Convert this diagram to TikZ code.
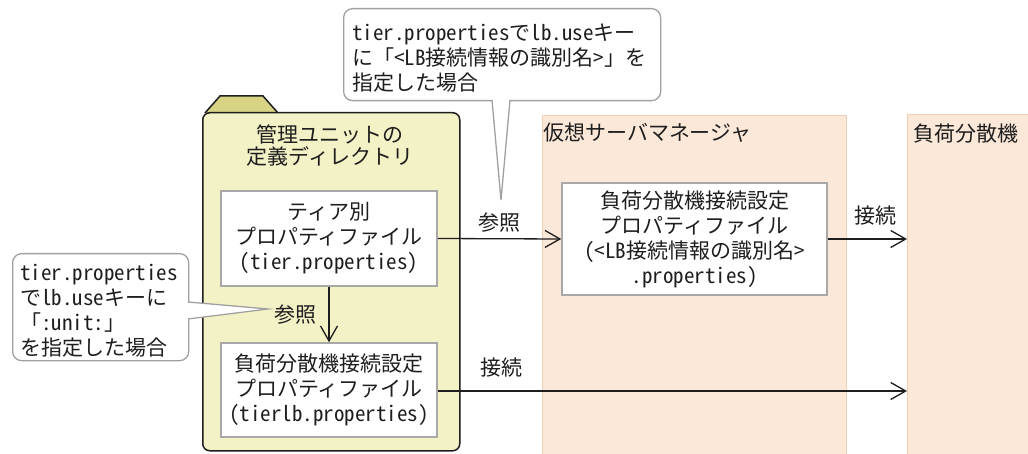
\documentclass[tikz,border=0pt]{standalone}
\usepackage{fontspec}
\setmainfont{Noto Sans CJK JP}
\newfontfamily\hwfont{Noto Sans CJK JP}[RawFeature=+hwid]
\newcommand\hw[1]{{\hwfont #1}}
\usetikzlibrary{arrows.meta}
\definecolor{folderfill}{HTML}{F3F1C6}
\definecolor{tabfill}{HTML}{D8D384}
\definecolor{panelfill}{HTML}{FBE8D8}
\definecolor{paneldraw}{HTML}{EFCFB5}
\definecolor{boxdraw}{HTML}{A8A8A8}
\definecolor{calldraw}{HTML}{A0A0A0}
\definecolor{ink}{HTML}{1E1E1E}
\begin{document}
\begin{tikzpicture}[x=1pt,y=-1pt,
  every node/.style={font=\fontsize{21}{25}\selectfont, text=ink},
  panel/.style={draw=paneldraw, fill=panelfill, line width=1.3pt, inner sep=0pt, anchor=north west},
  filebox/.style={draw=boxdraw, fill=white, line width=1.5pt, align=center, inner sep=0pt},
  callout/.style={draw=calldraw, fill=white, line width=1.3pt, rounded corners=9pt, inner sep=0pt, anchor=north west},
  calltext/.style={align=left, inner sep=0pt},
  conn/.style={draw=ink, line width=1.3pt, -{Straight Barb[length=15pt,width=17pt,line width=1.3pt]}},
  lbl/.style={inner sep=0pt}
]
\useasboundingbox (0,0) rectangle (1028,454);
\clip (0,0) rectangle (1028,454);
\fill[white] (0,0) rectangle (1028,454);

% panels
\node[panel, minimum width=304pt, minimum height=360pt] (mgr) at (542,115) {};
\node[panel, minimum width=140pt, minimum height=360pt] (lb) at (907,114) {};
\node[anchor=west, inner sep=0pt] (mgrtitle) at (543,133) {仮想サーバマネージャ};
\node[anchor=west, inner sep=0pt] (lbtitle) at (913,134) {負荷分散機};

% folder
\filldraw[fill=tabfill, draw=ink, line width=1.5pt] (205,113) -- (220,96) -- (263,96) -- (278,113);
\node[draw=ink, fill=folderfill, line width=1.5pt, rounded corners=7pt, minimum width=257pt, minimum height=338pt, anchor=north west, inner sep=0pt] (folder) at (202,112) {};
\node[align=center, inner sep=0pt, font=\fontsize{21}{22}\selectfont] (ftitle) at (330,146) {管理ユニットの\\定義ディレクトリ};

% file boxes
\node[filebox, minimum width=216pt, minimum height=95pt] (b1) at (329,238.5) {ティア別\\プロパティファイル\\\hw{(tier.properties)}};
\node[filebox, minimum width=216pt, minimum height=94pt] (b2) at (329,390) {負荷分散機接続設定\\プロパティファイル\\\hw{(tierlb.properties)}};
\node[filebox, minimum width=265pt, minimum height=112pt] (b3) at (694.5,239) {負荷分散機接続設定\\プロパティファイル\\\hw{(<LB}接続情報の識別名\hw{>}\\\hw{.properties)}};

% connectors
\draw[conn] (b1.east) -- node[above=6pt, lbl]{参照} (b3.west);
\draw[conn] (b3.east) -- node[above=13pt, lbl, pos=0.6]{接続} (b3.east -| lb.west);
\draw[conn] (b2.east |- 0,391) -- node[above=13pt, lbl, pos=0.136]{接続} (lb.west |- 0,391);
\draw[conn] (b1.south) -- node[left=12pt, lbl]{参照} (b2.north);

% callout top
\node[callout, minimum width=317pt, minimum height=92pt] (c1) at (343,8) {};
\node[calltext, anchor=west] (c1t) at ([xshift=9pt,yshift=-3pt]c1.west) {\hw{tier.properties}で\hw{lb.use}キー\\に「\hw{<LB}接続情報の識別名\hw{>}」を\\指定した場合};
\coordinate (c1tip) at (501,200);
\fill[white] (492,97) -- (c1tip) -- (510,97) -- cycle;
\draw[calldraw, line width=1.3pt] (492,100) -- (c1tip) -- (510,100);

% callout left
\node[callout, minimum width=176pt, minimum height=107pt] (c2) at (12,253) {};
\node[calltext, anchor=west] (c2t) at ([xshift=8pt,yshift=-4pt]c2.west) {\hw{tier.properties}\\で\hw{lb.use}キーに\\「\hw{:unit:}」\\を指定した場合};
\coordinate (c2tip) at (268,309);
\fill[white] (185,302) -- (c2tip) -- (185,319) -- cycle;
\draw[calldraw, line width=1.3pt] (188,302) -- (c2tip) -- (188,319);
\end{tikzpicture}
\end{document}
